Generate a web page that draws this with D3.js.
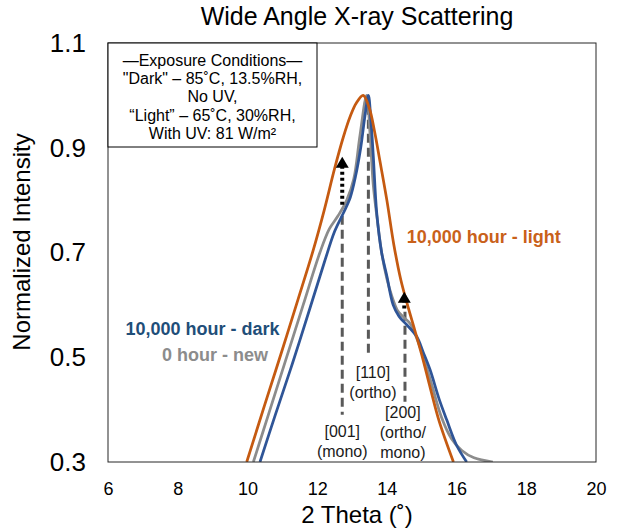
<!DOCTYPE html>
<html>
<head>
<meta charset="utf-8">
<script src="https://cdn.jsdelivr.net/npm/d3@7"></script>
<style>
  body { margin: 0; background: #fff; }
  text { font-family: "Liberation Sans", Arial, sans-serif; }
</style>
</head>
<body>
<svg width="620" height="529"></svg>
<script>
const svg = d3.select('svg')

const w = +svg.attr('width'), h = +svg.attr('height')
const margin = { top: 43, right: 24, bottom: 67, left: 108 }

// curves: 2 theta (deg) and normalized intensity
const lightX = [9.98, 10.5, 10.98, 11.45, 11.89, 12.2, 12.5, 12.75, 12.95, 13.12, 13.32, 13.5, 13.65, 13.8, 14.0, 14.2, 14.4, 14.6, 14.8, 15.0, 15.25, 15.5, 15.91]
const lightY = [0.30, 0.41, 0.51, 0.61, 0.705, 0.78, 0.86, 0.92, 0.96, 0.985, 1.0, 0.975, 0.93, 0.875, 0.80, 0.715, 0.648, 0.598, 0.552, 0.505, 0.44, 0.378, 0.30]

const darkX = [10.36, 10.8, 11.3, 11.8, 12.2, 12.5, 12.75, 12.95, 13.1, 13.25, 13.37, 13.47, 13.54, 13.61, 13.71, 13.85, 14.0, 14.18, 14.35, 14.57, 14.86, 15.04, 15.24, 15.5, 15.72, 16.0, 16.29]
const darkY = [0.30, 0.39, 0.49, 0.595, 0.68, 0.74, 0.775, 0.805, 0.845, 0.90, 0.96, 1.0, 0.955, 0.885, 0.775, 0.70, 0.655, 0.60, 0.578, 0.562, 0.539, 0.51, 0.476, 0.42, 0.38, 0.332, 0.30]

const newX = [10.17, 10.6, 11.1, 11.6, 12.08, 12.35, 12.6, 12.85, 13.05, 13.23, 13.42, 13.52, 13.61, 13.73, 13.85, 14.0, 14.15, 14.3, 14.47, 14.66, 14.86, 15.05, 15.29, 15.57, 15.85, 16.15, 16.5, 17.04]
const newY = [0.30, 0.39, 0.495, 0.60, 0.70, 0.745, 0.77, 0.80, 0.84, 0.924, 1.0, 0.924, 0.829, 0.76, 0.70, 0.65, 0.615, 0.59, 0.577, 0.565, 0.536, 0.50, 0.447, 0.385, 0.345, 0.322, 0.308, 0.30]

const xTicks = [6, 8, 10, 12, 14, 16, 18, 20]
const yTicks = [0.3, 0.5, 0.7, 0.9, 1.1]

// peak markers
const peakNames = [['[001]', '(mono)'], ['[110]', '(ortho)'], ['[200]', '(ortho/', 'mono)']]
const peakX = [12.72, 13.47, 14.52]
const peakTop = [0.77, 0.98, 0.587]
const peakBottom = [0.39, 0.50, 0.415]
const peakLabelX = [12.72, 13.6, 14.46]
const peakLabelY = [0.359, 0.472, 0.394]

// growth arrows
const arrowX = [12.72, 14.50]
const arrowFrom = [0.791, 0.593]
const arrowTo = [0.883, 0.625]

const legendLines = ['\u2014Exposure Conditions\u2014', '"Dark" \u2013 85\u02DAC, 13.5%RH,', 'No UV,', '\u201CLight\u201D \u2013 65\u02DAC, 30%RH,', 'With UV: 81 W/m\u00B2']

const x = d3.scaleLinear().domain([6, 20]).range([margin.left, w - margin.right])
const y = d3.scaleLinear().domain([0.3, 1.1]).range([h - margin.bottom, margin.top])

svg.append('defs').append('clipPath').attr('id', 'plot')
    .append('rect')
    .attr('x', x(6)).attr('y', y(1.1))
    .attr('width', x(20) - x(6)).attr('height', y(0.3) - y(1.1))

// title
svg.append('text')
    .attr('x', 357).attr('y', 25)
    .attr('text-anchor', 'middle')
    .attr('font-size', 25)
    .text('Wide Angle X-ray Scattering')

// axes
svg.append('g')
    .attr('transform', `translate(0, ${y(0.3)})`)
    .call(d3.axisBottom(x).tickValues(xTicks).tickSize(0).tickPadding(20))
    .call(g => g.select('.domain').remove())
    .call(g => g.selectAll('text').attr('font-size', 18).attr('fill', '#000')
        .style('font-family', '"Liberation Sans", Arial, sans-serif'))

svg.append('g')
    .attr('transform', `translate(${x(6)}, 0)`)
    .call(d3.axisLeft(y).tickValues(yTicks).tickFormat(d3.format('.1f')).tickSize(0).tickPadding(22))
    .call(g => g.select('.domain').remove())
    .call(g => g.selectAll('text').attr('font-size', 26).attr('fill', '#000')
        .style('font-family', '"Liberation Sans", Arial, sans-serif'))

svg.append('text')
    .attr('x', 357).attr('y', 523)
    .attr('text-anchor', 'middle')
    .attr('font-size', 24)
    .text('2 Theta (\u02DA)')

svg.append('text')
    .attr('transform', `translate(30, 242) rotate(-90)`)
    .attr('text-anchor', 'middle')
    .attr('font-size', 24)
    .text('Normalized Intensity')

// dashed peak lines
const peaks = svg.append('g')
peakX.forEach((p, i) => {
    peaks.append('line')
        .attr('x1', x(p)).attr('x2', x(p))
        .attr('y1', y(peakTop[i])).attr('y2', y(peakBottom[i]))
        .attr('stroke', '#595959')
        .attr('stroke-width', 3)
        .attr('stroke-dasharray', '9,5')
    peaks.append('text')
        .attr('x', x(peakLabelX[i])).attr('y', y(peakLabelY[i]))
        .attr('text-anchor', 'middle')
        .attr('font-size', 16)
        .attr('fill', '#1a1a1a')
        .selectAll('tspan')
        .data(peakNames[i])
        .join('tspan')
            .attr('x', x(peakLabelX[i]))
            .attr('dy', (d, j) => j === 0 ? '0.35em' : 20)
            .text(d => d)
})

// curves
const line = d3.line()
    .x(d => x(d[0]))
    .y(d => y(d[1]))
    .curve(d3.curveCatmullRom.alpha(0.5))

const series = [
    { xs: newX, ys: newY, color: '#8C8C8C' },
    { xs: darkX, ys: darkY, color: '#2F5597' },
    { xs: lightX, ys: lightY, color: '#C55A11' }
]

svg.append('g')
    .attr('clip-path', 'url(#plot)')
    .selectAll('path')
    .data(series)
    .join('path')
        .attr('d', s => line(d3.zip(s.xs, s.ys)))
        .attr('fill', 'none')
        .attr('stroke', s => s.color)
        .attr('stroke-width', 2.75)
        .attr('stroke-linejoin', 'round')

// arrows
arrowX.forEach((a, i) => {
    const tip = y(arrowTo[i])
    svg.append('line')
        .attr('x1', x(a)).attr('x2', x(a))
        .attr('y1', y(arrowFrom[i])).attr('y2', tip + 9)
        .attr('stroke', '#000')
        .attr('stroke-width', 4)
        .attr('stroke-dasharray', '3,3')
    svg.append('path')
        .attr('d', `M${x(a)},${tip} L${x(a) + 6.5},${tip + 11} L${x(a) - 6.5},${tip + 11} Z`)
        .attr('fill', '#000')
})

// series labels
svg.append('text')
    .attr('x', x(14.57)).attr('y', y(0.73)).attr('dy', '0.35em')
    .attr('font-size', 18).attr('font-weight', 'bold')
    .attr('fill', '#C9611A')
    .text('10,000 hour - light')

svg.append('text')
    .attr('x', x(8.71)).attr('y', y(0.554)).attr('dy', '0.35em')
    .attr('text-anchor', 'middle')
    .attr('font-size', 18).attr('font-weight', 'bold')
    .attr('fill', '#1F4E79')
    .text('10,000 hour - dark')

svg.append('text')
    .attr('x', x(9.07)).attr('y', y(0.504)).attr('dy', '0.35em')
    .attr('text-anchor', 'middle')
    .attr('font-size', 18).attr('font-weight', 'bold')
    .attr('fill', '#8C8C8C')
    .text('0 hour - new')

// plot frame
svg.append('rect')
    .attr('x', x(6)).attr('y', y(1.1))
    .attr('width', x(20) - x(6)).attr('height', y(0.3) - y(1.1))
    .attr('fill', 'none')
    .attr('stroke', '#262626')
    .attr('stroke-width', 1)

// exposure conditions box
const box = svg.append('g').attr('transform', `translate(${x(6)}, ${y(1.1)})`)
box.append('rect')
    .attr('width', 209).attr('height', 104)
    .attr('fill', '#fff')
    .attr('stroke', '#000')
    .attr('stroke-width', 1)
box.append('text')
    .attr('text-anchor', 'middle')
    .attr('font-size', 16)
    .selectAll('tspan')
    .data(legendLines)
    .join('tspan')
        .attr('x', 104.5)
        .attr('y', (d, i) => 17 + i * 18.3)
        .attr('dy', '0.35em')
        .text(d => d)
</script>
</body>
</html>
